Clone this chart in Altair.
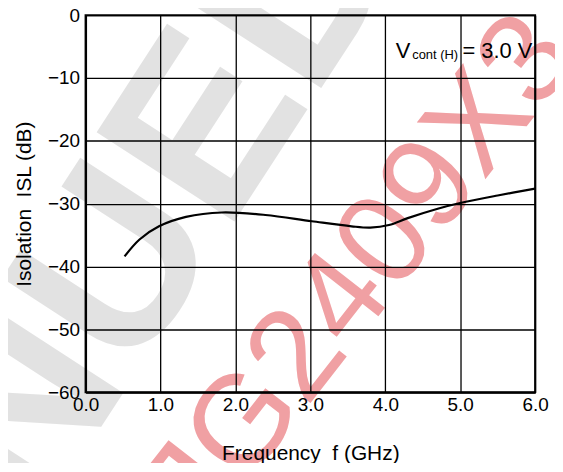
import altair as alt
import pandas as pd

# Curve: isolation vs frequency
freq = [0.52, 0.72, 0.98, 1.34, 1.82, 2.40, 3.02, 3.55, 3.80, 4.05, 4.30, 4.70, 5.00, 5.50, 6.00]
isl = [-38.4, -35.7, -33.6, -32.1, -31.4, -31.8, -32.8, -33.6, -33.8, -33.4, -32.3, -30.8, -29.9, -28.7, -27.6]

x_ticks = [0, 1, 2, 3, 4, 5, 6]
y_ticks = [0, -10, -20, -30, -40, -50, -60]

# Annotation (V_cont(H) = 3.0 V)
ann_text = ["V", "cont (H)", "= 3.0 V"]
ann_f = [4.14, 4.36, 5.03]
ann_isl = [-6.81, -6.97, -6.81]
ann_size = [22, 13, 22]

# Watermarks
wm_gray_text = ["DISCONTINUED"]
wm_gray_f = [3.48]
wm_gray_isl = [15.5]
wm_pink_text = ["NJG2409X3"]
wm_pink_f = [3.31]
wm_pink_isl = [-47.0]

FONT = "Liberation Sans"

xscale = alt.Scale(domain=[0, 6], nice=False, zero=False)
yscale = alt.Scale(domain=[-60, 0], nice=False, zero=False)

curve_df = pd.DataFrame({"f": freq, "isl": isl})
ann_df = pd.DataFrame({"f": ann_f, "isl": ann_isl, "t": ann_text, "s": ann_size})
gray_df = pd.DataFrame({"f": wm_gray_f, "isl": wm_gray_isl, "t": wm_gray_text})
pink_df = pd.DataFrame({"f": wm_pink_f, "isl": wm_pink_isl, "t": wm_pink_text})

x_axis = alt.Axis(
    values=x_ticks, format=".1f", grid=True, gridColor="black", gridWidth=1.3, gridOpacity=1,
    domain=True, domainColor="black", domainWidth=2, ticks=False,
    labelFont=FONT, labelFontSize=19, labelColor="black", labelPadding=3, labelFlush=False,
    title="Frequency\u00a0 f (GHz)", titleFont=FONT, titleFontSize=21, titleFontWeight="normal",
    titleColor="black", titlePadding=29, zindex=1,
)
y_axis = alt.Axis(
    values=y_ticks, format="d", grid=True, gridColor="black", gridWidth=1.3, gridOpacity=1,
    domain=True, domainColor="black", domainWidth=2, ticks=False,
    labelFont=FONT, labelFontSize=19, labelColor="black", labelPadding=6, labelFlush=False,
    title="Isolation\u00a0 ISL (dB)", titleFont=FONT, titleFontSize=21, titleFontWeight="normal",
    titleColor="black", titlePadding=13, zindex=1,
)

gray = alt.Chart(gray_df).mark_text(
    font=FONT, fontSize=240, fontWeight="bold", color="#E2E2E2", angle=303,
    align="right", baseline="middle"
).encode(x=alt.X("f:Q", scale=xscale), y=alt.Y("isl:Q", scale=yscale), text="t:N")

pink = alt.Chart(pink_df).mark_text(
    font=FONT, fontSize=130, color="#F0A0A3", angle=308, align="center", baseline="middle"
).encode(x=alt.X("f:Q", scale=xscale), y=alt.Y("isl:Q", scale=yscale), text="t:N")

line = alt.Chart(curve_df).mark_line(
    color="black", strokeWidth=2.2, interpolate="catmull-rom"
).encode(
    x=alt.X("f:Q", scale=xscale, axis=x_axis),
    y=alt.Y("isl:Q", scale=yscale, axis=y_axis),
)

ann = alt.Chart(ann_df).mark_text(
    font=FONT, color="black", align="left", baseline="alphabetic"
).encode(
    x=alt.X("f:Q", scale=xscale), y=alt.Y("isl:Q", scale=yscale), text="t:N",
    size=alt.Size("s:Q", scale=None, legend=None),
)

frame = alt.Chart(pd.DataFrame({"a": [0]})).mark_rect(
    filled=False, stroke="black", strokeWidth=2
).encode(
    x=alt.datum(0, scale=xscale), x2=alt.datum(6),
    y=alt.datum(-60, scale=yscale), y2=alt.datum(0),
)

chart = alt.layer(gray, pink, line, ann, frame).properties(
    width=452, height=379,
    padding={"left": 78, "top": 6, "right": 20, "bottom": 70},
    autosize="none",
).configure_view(stroke=None).configure(background="white")

chart.save("out.html", embed_options={"renderer": "svg", "actions": False})
